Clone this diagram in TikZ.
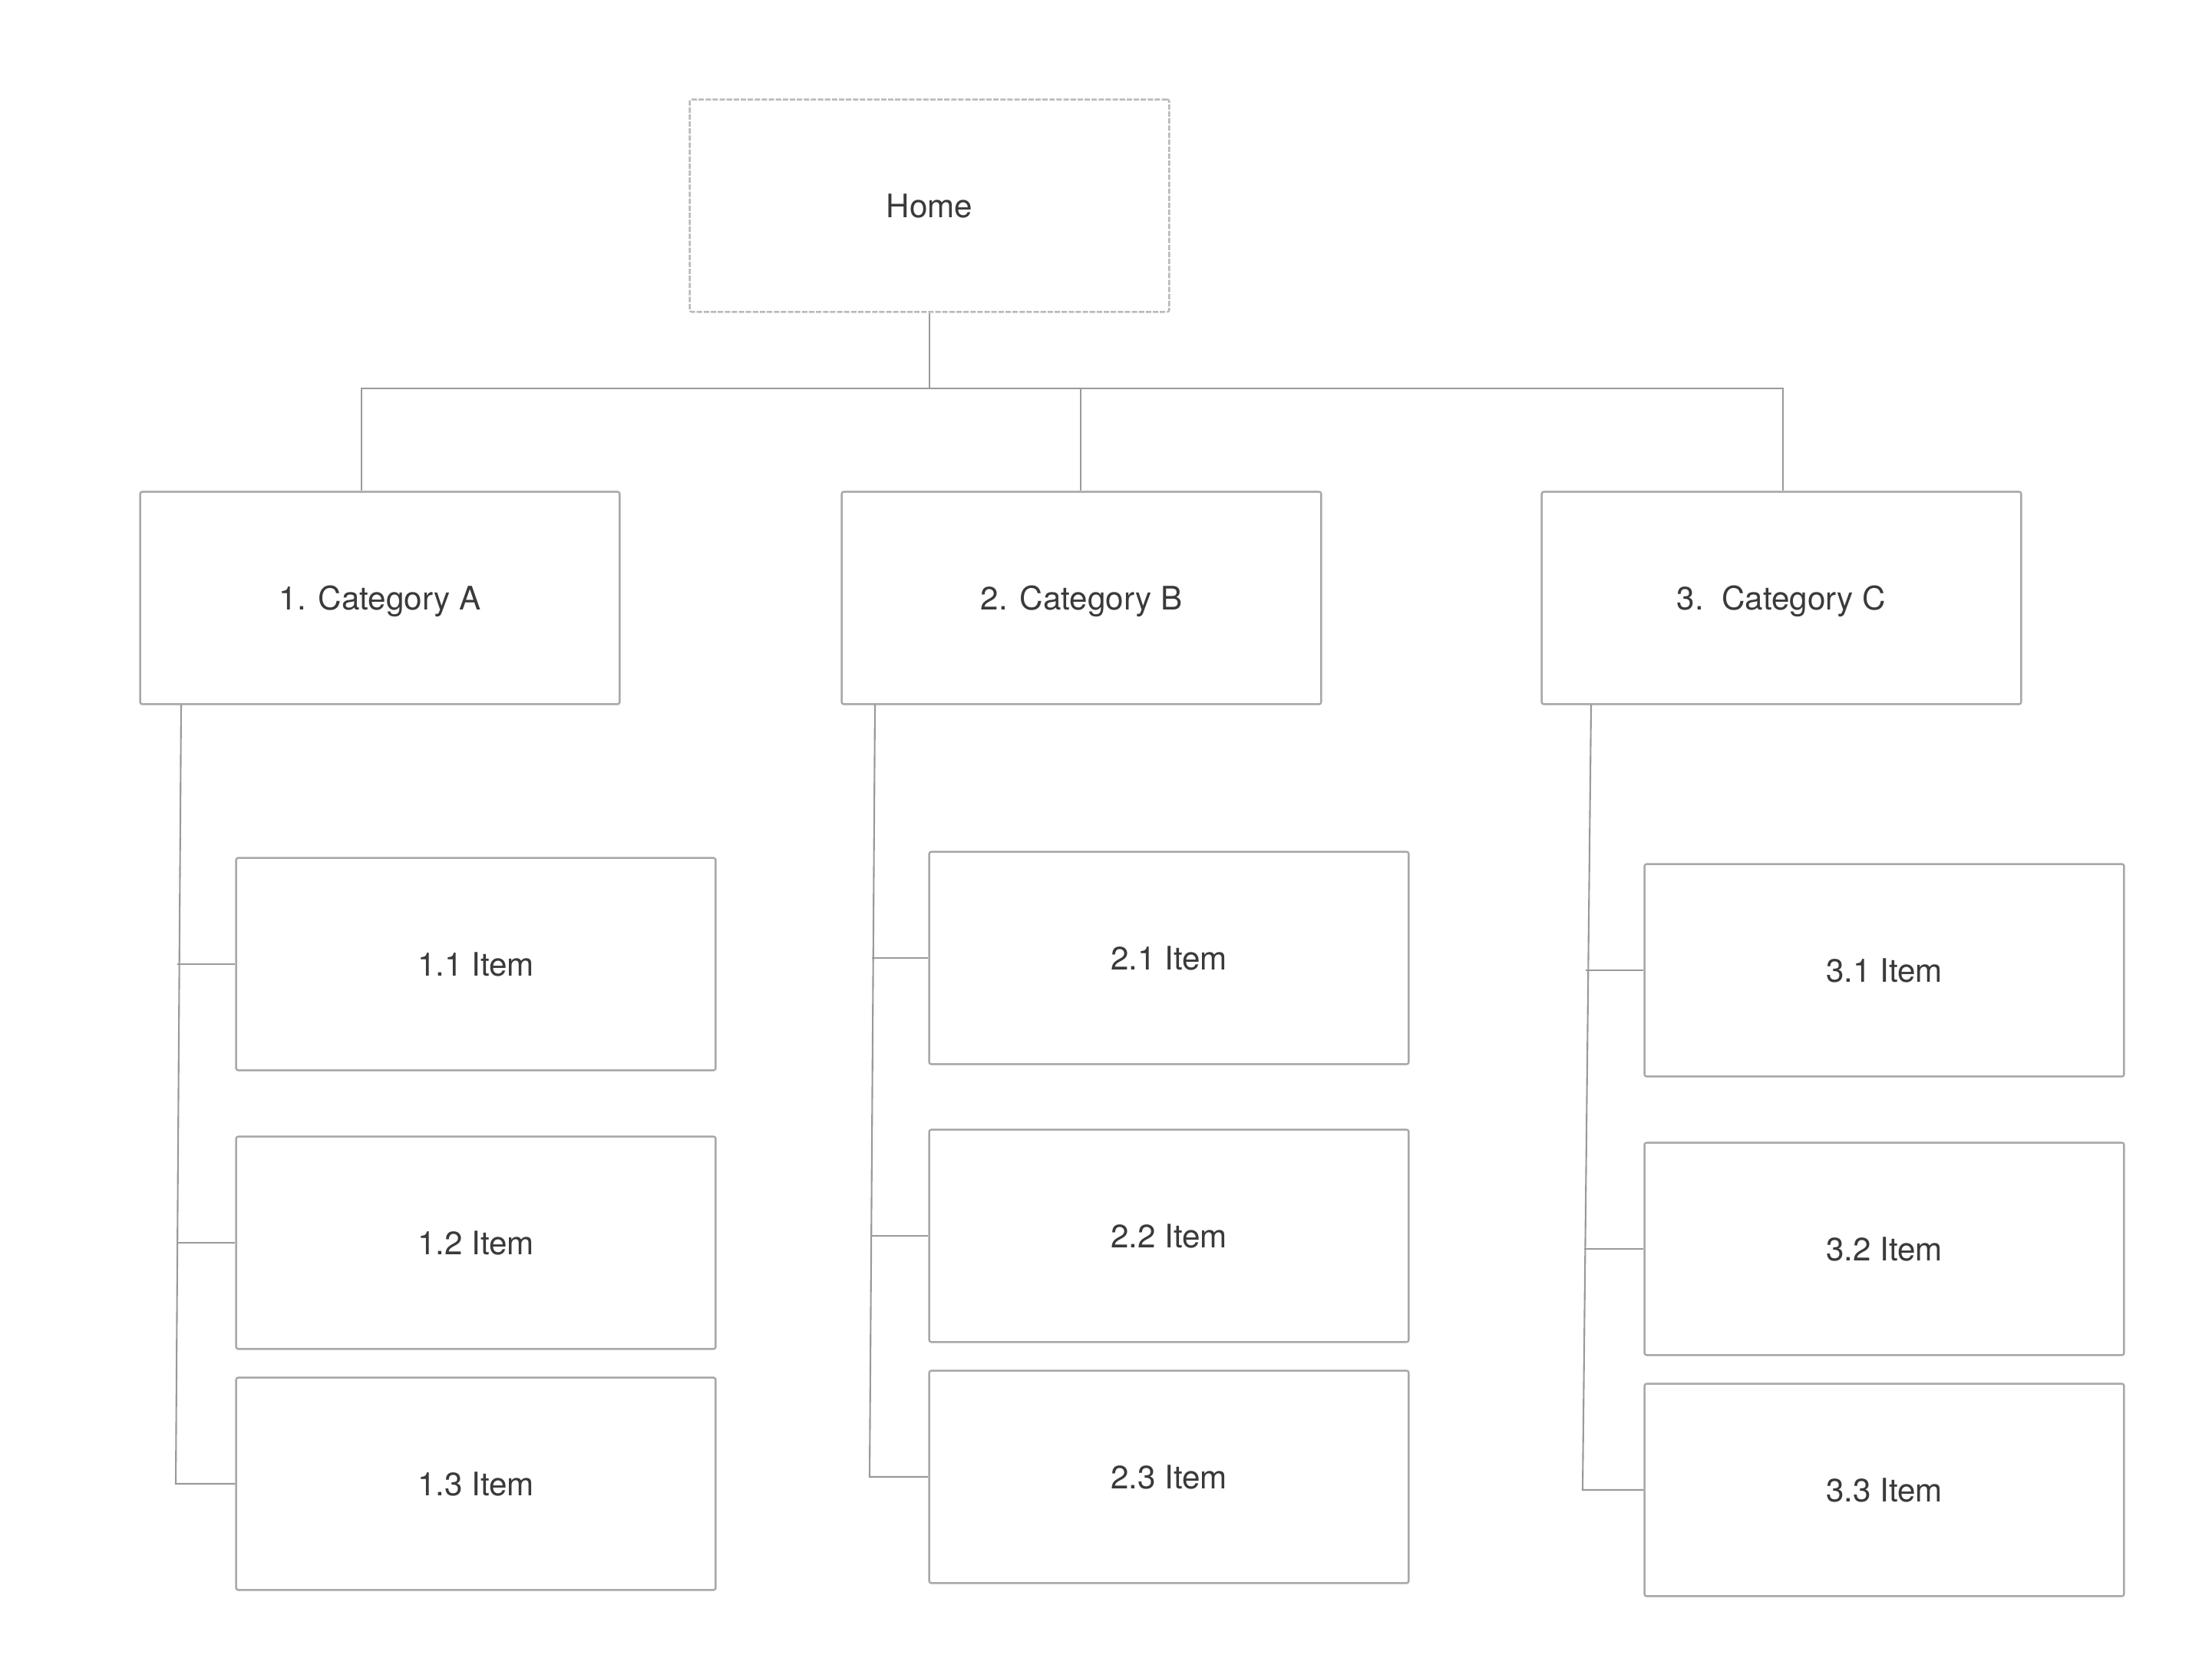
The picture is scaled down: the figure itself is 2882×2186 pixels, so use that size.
\documentclass[tikz,border=0pt]{standalone}
\usepackage{fontspec}
\setmainfont{TeX Gyre Heros}
\definecolor{boxline}{HTML}{A8A8A8}
\definecolor{connline}{HTML}{9A9A9A}
\definecolor{txt}{HTML}{3A3A3A}
\begin{document}
\begin{tikzpicture}[x=0.01cm,y=-0.01cm,
  box/.style={draw=boxline,line width=0.7pt,rounded corners=0.8pt,minimum width=6.245cm,minimum height=2.765cm,
    inner sep=0pt,font=\fontsize{12}{14}\selectfont,text=txt,anchor=center,text depth=0pt},
  homebox/.style={box,dash pattern=on 2pt off 0.6pt,draw=boxline!80},
  conn/.style={draw=connline,line width=0.6pt}]
\useasboundingbox (0,0) rectangle (2882,2186);
% nodes
\node[homebox] (home) at (1211,268) {Home};
\node[box] (ca) at (495,779) {1. Category A};
\node[box] (cb) at (1409,779) {2. Category B};
\node[box] (cc) at (2321,779) {3.\ \ Category C};
\node[box] (i11) at (620,1256) {1.1 Item};
\node[box] (i12) at (620,1619) {1.2 Item};
\node[box] (i13) at (620,1933) {1.3 Item};
\node[box] (i21) at (1523,1248) {2.1 Item};
\node[box] (i22) at (1523,1610) {2.2 Item};
\node[box] (i23) at (1523,1924) {2.3 Item};
\node[box] (i31) at (2455,1264) {3.1 Item};
\node[box] (i32) at (2455,1627) {3.2 Item};
\node[box] (i33) at (2455,1941) {3.3 Item};
% bus
\coordinate (busA) at (471,506);
\coordinate (busH) at (1211,506);
\coordinate (busB) at (1408,506);
\coordinate (busC) at (2323,506);
\draw[conn] (home.south) -- (busH);
\draw[conn] (ca.north -| busA) -- (busA) -- (busC) -- (cc.north -| busC);
\draw[conn] (busB) -- (cb.north -| busB);
% stems
\coordinate (sa) at (236,918);
\coordinate (ea) at (229,1933);
\coordinate (sb) at (1140,918);
\coordinate (eb) at (1133,1924);
\coordinate (sc) at (2073,918);
\coordinate (ec) at (2062,1941);
\draw[conn] (sa) -- (ea) -- (i13.west);
\draw[conn] (sb) -- (eb) -- (i23.west);
\draw[conn] (sc) -- (ec) -- (i33.west);
\coordinate (ja1) at (231,1256);
\coordinate (ja2) at (230,1619);
\coordinate (jb1) at (1136,1248);
\coordinate (jb2) at (1135,1610);
\coordinate (jc1) at (2066,1264);
\coordinate (jc2) at (2064,1627);
\draw[conn] (ja1) -- (i11.west);
\draw[conn] (ja2) -- (i12.west);
\draw[conn] (jb1) -- (i21.west);
\draw[conn] (jb2) -- (i22.west);
\draw[conn] (jc1) -- (i31.west);
\draw[conn] (jc2) -- (i32.west);
\end{tikzpicture}
\end{document}
